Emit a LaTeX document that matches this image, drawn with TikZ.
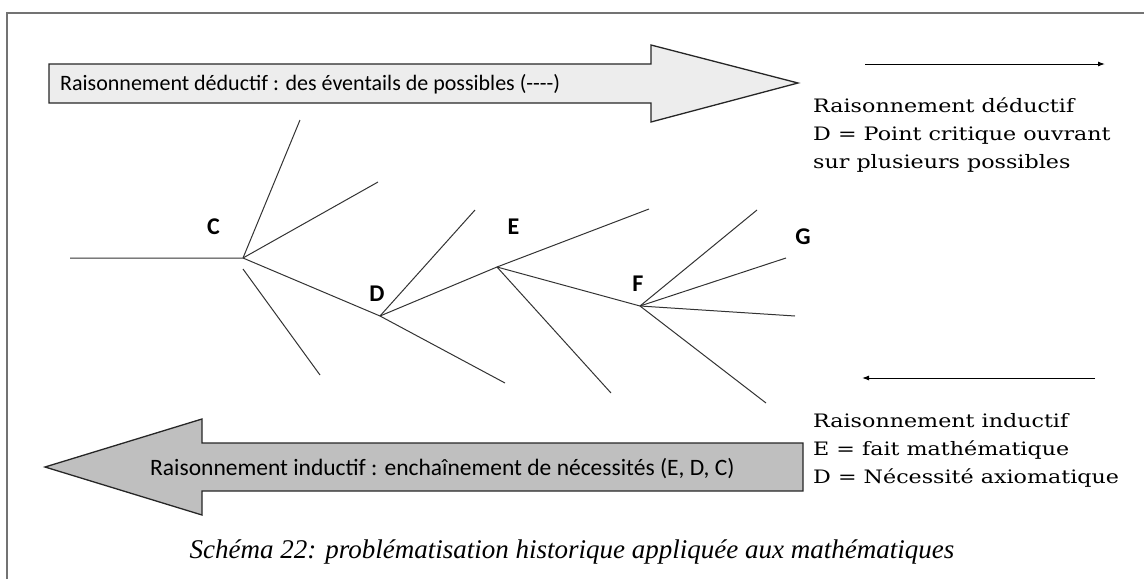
\documentclass[tikz,border=0pt]{standalone}
\usepackage{fontspec}
\setmainfont{Liberation Serif}
\newfontfamily\calibfont{Carlito}
\newfontfamily\legendfont[FakeStretch=1.2]{DejaVu Serif}
\usetikzlibrary{positioning,arrows.meta}

\begin{document}
\begin{tikzpicture}[x=1pt,y=-1pt,
    branch/.style={draw=black!80, line width=1pt},
    ptlabel/.style={font=\calibfont\bfseries\fontsize{24}{24}\selectfont, inner sep=0pt},
    bigarrow/.style={draw=black!85, line width=1.3pt, line join=miter},
    arrowtext/.style={font=\calibfont\fontsize{22}{24}\selectfont, inner sep=0pt, anchor=base west},
    sidetext/.style={font=\legendfont\fontsize{18.5}{28}\selectfont, align=left, inner sep=0pt, anchor=base west},
    thinarrow/.style={draw=black, line width=1pt, -{Latex[length=7pt,width=5pt]}}]
  \useasboundingbox (0,0) rectangle (1144,579);
  \draw[draw=black!55, line width=1.5pt] (7,579) -- (7,13) -- (1144,13);

  % fleche du haut
  \draw[bigarrow, fill=black!7] (49,64) -- (651,64) -- (651,45) -- (798,83)
    -- (651,122) -- (651,103) -- (49,103) -- cycle;
  \node[arrowtext] (deductif) at (60,90) {Raisonnement déductif : des éventails de possibles (----)};
  % fleche du bas
  \draw[bigarrow, fill=black!25] (803,443) -- (202,443) -- (202,419) -- (45,467)
    -- (202,515) -- (202,491) -- (803,491) -- cycle;
  \node[arrowtext, font=\calibfont\fontsize{23.5}{24}\selectfont] (inductif) at (150,475)
    {Raisonnement inductif : enchaînement de nécessités (E, D, C)};

  % points de l'arbre
  \coordinate (start) at (70,258);
  \coordinate (C) at (243,258);
  \coordinate (D) at (380,316);
  \coordinate (E) at (497,267);
  \coordinate (F) at (640,306);
  \coordinate (c1) at (300,120);
  \coordinate (c2) at (378,182);
  \coordinate (c3a) at (243,269);
  \coordinate (c3) at (320,375);
  \coordinate (d1) at (475,210);
  \coordinate (d2) at (505,383);
  \coordinate (e1) at (649,209);
  \coordinate (e2) at (611,393);
  \coordinate (f1) at (757,210);
  \coordinate (f2) at (786,258);
  \coordinate (f3) at (795,316);
  \coordinate (f4) at (766,403);

  \draw[branch] (start) -- (C) -- (D) -- (E) -- (F);
  \draw[branch] (C) -- (c1);
  \draw[branch] (C) -- (c2);
  \draw[branch] (c3a) -- (c3);
  \draw[branch] (D) -- (d1);
  \draw[branch] (D) -- (d2);
  \draw[branch] (E) -- (e1);
  \draw[branch] (E) -- (e2);
  \foreach \f in {f1,f2,f3,f4}
    \draw[branch] (F) -- (\f);

  \node[ptlabel] (labC) at (213.5,227) {C};
  \node[ptlabel] (labD) at (377,294) {D};
  \node[ptlabel] (labE) at (513.5,227) {E};
  \node[ptlabel] (labF) at (638,284) {F};
  \node[ptlabel] (labG) at (803,237) {G};

  % legendes a droite
  \coordinate (hautA) at (865,64);
  \coordinate (hautB) at (1105,64);
  \draw[thinarrow] (hautA) -- (hautB);
  \node[sidetext] (legdeduc) at (813,168) {Raisonnement déductif\\D = Point critique ouvrant\\sur plusieurs possibles};
  \coordinate (basA) at (1095,378);
  \coordinate (basB) at (862,378);
  \draw[thinarrow] (basA) -- (basB);
  \node[sidetext] (legindu) at (813,483) {Raisonnement inductif\\E = fait mathématique\\D = Nécessité axiomatique};

  \node[font=\itshape\fontsize{27}{28}\selectfont, inner sep=0pt, anchor=base] (caption) at (572,558)
    {Schéma 22: problématisation historique appliquée aux mathématiques};
\end{tikzpicture}
\end{document}
